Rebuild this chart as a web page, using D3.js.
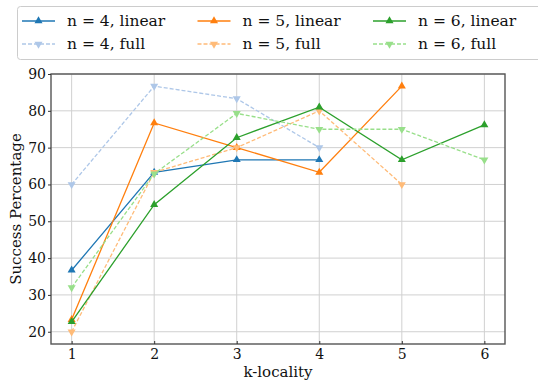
<!DOCTYPE html>
<html>
<head>
<meta charset="utf-8">
<script src="https://cdn.jsdelivr.net/npm/d3@7"></script>
<style>
  body { margin: 0; background: #fff; }
  svg text { font-family: "DejaVu Serif", serif; fill: #111; }
</style>
</head>
<body>
<svg id="chart" width="538" height="381"></svg>
<script>
"use strict";

// k-locality values
const kValues = [1, 2, 3, 4, 5, 6];
const yTicks = [20, 30, 40, 50, 60, 70, 80, 90];

// success percentages
const n4Linear = [36.7, 63.3, 66.7, 66.7];
const n4Full   = [60.0, 86.7, 83.3, 70.0];
const n5Linear = [23.3, 76.7, 70.0, 63.3, 86.7];
const n5Full   = [20.0, 63.3, 70.0, 80.0, 60.0];
const n6Linear = [22.7, 54.5, 72.7, 81.0, 66.7, 76.2];
const n6Full   = [32.0, 62.9, 79.3, 75.0, 75.0, 66.7];

const seriesNames = ["n = 4, linear", "n = 5, linear", "n = 6, linear",
                     "n = 4, full", "n = 5, full", "n = 6, full"];
const seriesValues = [n4Linear, n5Linear, n6Linear, n4Full, n5Full, n6Full];
const seriesColors = ["#1f77b4", "#ff7f0e", "#2ca02c", "#aec7e8", "#ffbb78", "#98df8a"];

let dim = {left: 51, right: 505, top: 74, bottom: 344};

let svg = d3.select("svg#chart");

let xScale = d3.scaleLinear().domain([0.75, 6.25]).range([dim.left, dim.right]);
let yScale = d3.scaleLinear().domain([16.67, 90]).range([dim.bottom, dim.top]);

/* grid */
let grid = svg.append("g").attr("class", "grid");
grid.selectAll("line.gx").data(kValues).enter().append("line")
  .attr("x1", d => xScale(d)).attr("x2", d => xScale(d))
  .attr("y1", dim.top).attr("y2", dim.bottom)
  .attr("stroke", "#d0d0d0").attr("stroke-width", 1);
grid.selectAll("line.gy").data(yTicks).enter().append("line")
  .attr("y1", d => yScale(d)).attr("y2", d => yScale(d))
  .attr("x1", dim.left).attr("x2", dim.right)
  .attr("stroke", "#d0d0d0").attr("stroke-width", 1);

/* series */
let line = d3.line()
  .x((d, i) => xScale(kValues[i]))
  .y(d => yScale(d));

let triUp = d3.symbol().type(d3.symbolTriangle).size(28);
let triDown = d3.symbol().type(d3.symbolTriangle).size(28);

// draw in the same order as legend columns: linear, then full for each n
const drawOrder = [0, 3, 1, 4, 2, 5];
drawOrder.forEach(s => {
  let full = s >= 3;
  let g = svg.append("g");
  g.append("path")
    .attr("d", line(seriesValues[s]))
    .attr("fill", "none")
    .attr("stroke", seriesColors[s])
    .attr("stroke-width", 1.3)
    .attr("stroke-dasharray", full ? "4,2" : null);
  g.selectAll("path.mk").data(seriesValues[s]).enter().append("path")
    .attr("d", full ? triDown() : triUp())
    .attr("transform", (d, i) => `translate(${xScale(kValues[i])},${yScale(d)})` + (full ? " rotate(180)" : ""))
    .attr("fill", seriesColors[s]);
});

/* frame */
svg.append("rect")
  .attr("x", dim.left).attr("y", dim.top)
  .attr("width", dim.right - dim.left).attr("height", dim.bottom - dim.top)
  .attr("fill", "none").attr("stroke", "#555").attr("stroke-width", 1.4);

/* axes */
let yAxis = svg.append("g")
  .attr("transform", `translate(${dim.left},0)`)
  .call(d3.axisLeft(yScale).tickValues(yTicks).tickSize(3).tickPadding(2));
yAxis.select(".domain").remove();
yAxis.selectAll("text").style("font-size", "14px");

let xAxis = svg.append("g")
  .attr("transform", `translate(0,${dim.bottom})`)
  .call(d3.axisBottom(xScale).tickValues(kValues).tickFormat(d3.format("d")).tickSize(-3).tickPadding(5));
xAxis.select(".domain").remove();
xAxis.selectAll("text").style("font-size", "14px");
svg.selectAll(".tick line").attr("stroke", "#333");

svg.append("text")
  .attr("text-anchor", "middle")
  .attr("x", (dim.left + dim.right) / 2)
  .attr("y", 377)
  .style("font-size", "15px")
  .text("k-locality");

svg.append("text")
  .attr("text-anchor", "middle")
  .attr("transform", `translate(21,${(dim.top + dim.bottom) / 2}) rotate(-90)`)
  .style("font-size", "15px")
  .text("Success Percentage");

/* legend */
let legend = svg.append("g");
legend.append("rect")
  .attr("x", 17.5).attr("y", 6.5)
  .attr("width", 540).attr("height", 53)
  .attr("rx", 3)
  .attr("fill", "#fff").attr("stroke", "#ccc").attr("stroke-width", 1);

seriesNames.forEach((name, i) => {
  let col = i % 3, row = Math.floor(i / 3);
  let x0 = 22 + col * 175.5;
  let y0 = 21 + row * 23;
  let full = row === 1;
  legend.append("line")
    .attr("x1", x0).attr("x2", x0 + 33)
    .attr("y1", y0).attr("y2", y0)
    .attr("stroke", seriesColors[i]).attr("stroke-width", 1.3)
    .attr("stroke-dasharray", full ? "4,2" : null);
  legend.append("path")
    .attr("d", full ? triDown() : triUp())
    .attr("transform", `translate(${x0 + 16.5},${y0})` + (full ? " rotate(180)" : ""))
    .attr("fill", seriesColors[i]);
  legend.append("text")
    .attr("x", x0 + 45).attr("y", y0 + 5)
    .style("font-size", "15.5px")
    .text(name);
});
</script>
</body>
</html>
